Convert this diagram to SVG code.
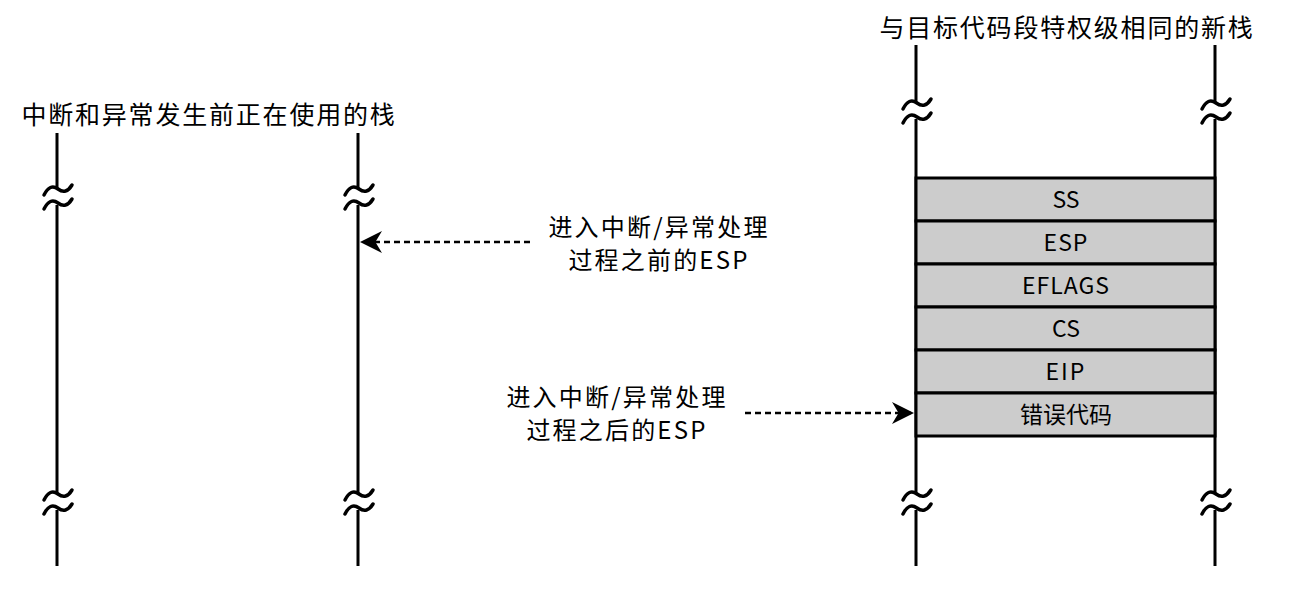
<svg xmlns="http://www.w3.org/2000/svg" width="1292" height="602" viewBox="0 0 1292 602">
<defs>
<style>
.ln{stroke:#000;stroke-width:3;fill:none}
.tl{stroke:#000;stroke-width:3.5;fill:none;stroke-linecap:round}
.dash{stroke:#000;stroke-width:2.5;fill:none;stroke-dasharray:6 4}
.box{fill:#cccccc;stroke:#000;stroke-width:3}
.t{font-family:"Noto Sans CJK SC","Noto Sans",sans-serif;font-size:25px;fill:#000;text-anchor:middle;letter-spacing:1.8px}
.s{font-family:"Noto Sans CJK SC","Noto Sans",sans-serif;font-size:24px;fill:#000;text-anchor:middle;letter-spacing:2.2px}
.b{font-family:"Noto Sans CJK SC","Noto Sans",sans-serif;font-size:23px;fill:#000;text-anchor:middle}
</style>
<marker id="ah" viewBox="0 0 10 10" refX="10" refY="5" markerWidth="22" markerHeight="22" markerUnits="userSpaceOnUse" orient="auto">
<path d="M0,0 L10,5 L0,10 L3,5 Z" fill="#000"/>
</marker>
<g id="brk">
<path class="tl" d="M-13,7 Q-7,-5 1,1 T15,-3"/>
<path class="tl" d="M-13,21 Q-7,9 1,15 T15,11"/>
</g>
</defs>
<g id="left-stack">
<text class="t" x="209" y="124">中断和异常发生前正在使用的栈</text>
<path class="ln" d="M57,133 V189 M57,205 V494 M57,510 V566"/>
<path class="ln" d="M358,133 V189 M358,205 V494 M358,510 V566"/>
<use href="#brk" x="57" y="188"/>
<use href="#brk" x="358" y="188"/>
<use href="#brk" x="57" y="493"/>
<use href="#brk" x="358" y="493"/>
</g>
<g id="right-stack">
<text class="t" x="1067" y="37">与目标代码段特权级相同的新栈</text>
<path class="ln" d="M916,45 V103 M916,119 V494 M916,510 V566"/>
<path class="ln" d="M1215,45 V103 M1215,119 V494 M1215,510 V566"/>
<use href="#brk" x="916" y="102"/>
<use href="#brk" x="1215" y="102"/>
<use href="#brk" x="916" y="493"/>
<use href="#brk" x="1215" y="493"/>
</g>
<g id="ss"><rect class="box" x="916" y="178" width="299" height="43"/><text class="b" x="1066" y="208">SS</text></g>
<g id="esp"><rect class="box" x="916" y="221" width="299" height="43"/><text class="b" x="1066" y="251" letter-spacing="1">ESP</text></g>
<g id="eflags"><rect class="box" x="916" y="264" width="299" height="43"/><text class="b" x="1066" y="294" letter-spacing="1">EFLAGS</text></g>
<g id="cs"><rect class="box" x="916" y="307" width="299" height="43"/><text class="b" x="1066" y="337">CS</text></g>
<g id="eip"><rect class="box" x="916" y="350" width="299" height="43"/><text class="b" x="1066" y="380" letter-spacing="2">EIP</text></g>
<g id="errcode"><rect class="box" x="916" y="393" width="299" height="43"/><text class="b" x="1066" y="423">错误代码</text></g>
<g id="label-before">
<text class="s" x="659" y="236">进入中断/异常处理</text>
<text class="s" x="659" y="269">过程之前的ESP</text>
</g>
<g id="label-after">
<text class="s" x="617" y="406">进入中断/异常处理</text>
<text class="s" x="617" y="439">过程之后的ESP</text>
</g>
<g id="connectors">
<path class="dash" d="M530,242 H360" marker-end="url(#ah)"/>
<path class="dash" d="M745,413 H914" marker-end="url(#ah)"/>
</g>
</svg>
